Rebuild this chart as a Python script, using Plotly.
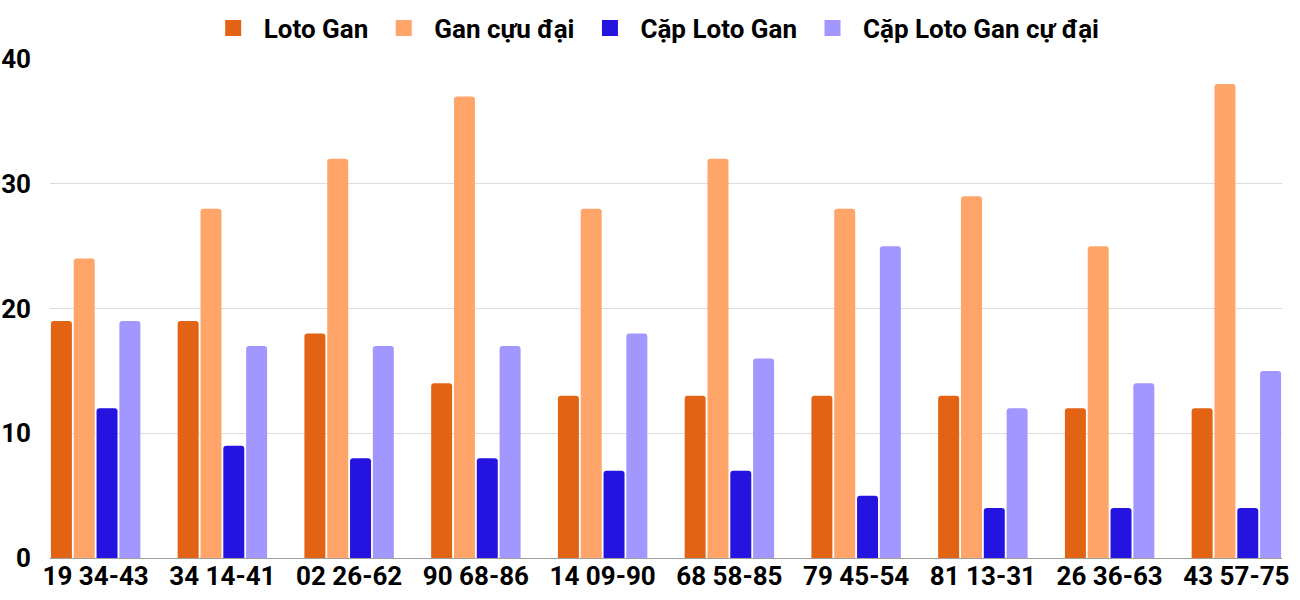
import plotly.graph_objects as go

categories = ["19 34-43", "34 14-41", "02 26-62", "90 68-86", "14 09-90",
              "68 58-85", "79 45-54", "81 13-31", "26 36-63", "43 57-75"]
loto_gan = [19, 19, 18, 14, 13, 13, 13, 13, 12, 12]
gan_cuc_dai = [24, 28, 32, 37, 28, 32, 28, 29, 25, 38]
cap_loto_gan = [12, 9, 8, 8, 7, 7, 5, 4, 4, 4]
cap_gan_cuc_dai = [19, 17, 17, 17, 18, 16, 25, 12, 14, 15]

series = [
    ("Loto Gan", loto_gan, "#E26314"),
    ("Gan cựu đại", gan_cuc_dai, "#FFA56A"),
    ("Cặp Loto Gan", cap_loto_gan, "#2513E0"),
    ("Cặp Loto Gan cự đại", cap_gan_cuc_dai, "#A197FF"),
]

fig = go.Figure()
for name, vals, color in series:
    fig.add_trace(go.Bar(x=categories, y=vals, name=name, legendgroup=name,
                         showlegend=False,
                         marker=dict(color=color, line=dict(width=0))))
# legend proxies (larger square swatches)
for name, vals, color in series:
    fig.add_trace(go.Scatter(x=[None], y=[None], mode="markers", name=name,
                             legendgroup=name, showlegend=True,
                             marker=dict(symbol="square", size=30, color=color,
                                         line=dict(width=0))))

font = dict(family="Roboto", size=26, color="#000000", weight="bold")
fig.update_layout(
    width=1300, height=600,
    margin=dict(l=50, r=18, t=59, b=42, autoexpand=False),
    paper_bgcolor="white", plot_bgcolor="white",
    barmode="group", bargap=0.28, bargroupgap=0.08,
    barcornerradius=3,
    font=font,
    legend=dict(orientation="h", x=0.49, xanchor="center", y=1.062, yanchor="middle",
                font=font, itemsizing="trace", itemwidth=51),
    xaxis=dict(range=[-0.36, 9.36], showgrid=False, tickfont=font,
               showline=False, ticks="", automargin=False),
    yaxis=dict(range=[0, 40], dtick=10, showgrid=True, gridcolor="#DDDDDD",
               gridwidth=1, zeroline=True, zerolinecolor="#9E9E9E", zerolinewidth=1,
               tickfont=font, ticklabelstandoff=18, showline=False, automargin=False),
)
fig.write_html("out.html", config={"displayModeBar": False},
               post_script="document.body.style.margin='0';document.body.style.overflow='hidden';")
